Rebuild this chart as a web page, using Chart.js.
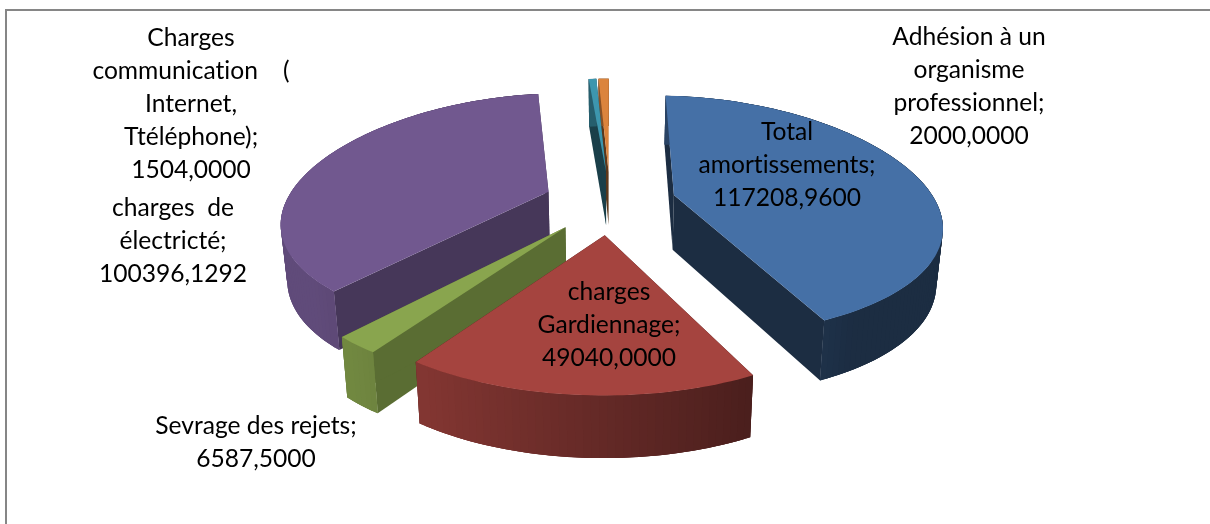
<!DOCTYPE html>
<html>
<head>
<meta charset="utf-8">
<script src="https://cdn.jsdelivr.net/npm/chart.js@4"></script>
<style>
    body { margin: 0; background: #fff; }
    #frame { position: absolute; left: 5px; top: 9px; right: 0; bottom: 0; border-left: 2px solid #868686; border-top: 2px solid #868686; }
    canvas { position: absolute; left: 0; top: 0; }
</style>
</head>
<body>
<div id="frame"></div>
<canvas id="myChart" width="1210" height="524"></canvas>
<script>
const categories = ['Total\namortissements', 'charges\nGardiennage', 'Sevrage des rejets', 'charges  de\nélectricté',
    'Charges\ncommunication    (\nInternet,\nTtéléphone)', 'Adhésion à un\norganisme\nprofessionnel'];
const values = [117208.96, 49040, 6587.5, 100396.1292, 1504, 2000];
const colors = ['#4570A6', '#A5443F', '#89A54E', '#71588F', '#3D96AE', '#DB843D'];

// centre of each label block (same order as categories)
const labelX = [787, 609, 256, 173, 191, 969];
const labelY = [164, 324, 442, 240, 103, 86];
const lineHeight = 33;

// how dark the cut faces are
const cutShades = [0.4, 0.4, 0.66, 0.62, 0.42, 0.42];
// slices painted back to front
const drawOrder = [5, 4, 0, 3, 2, 1];

const view = { cx: 610, cy: 202, rx: 267, ry: 119, kx: 0.15, ky: 0.175, sag: 8, explodeX: 0.98, explodeY: 1.05 };

function project(x, y) {
    return {
        x: view.cx + view.rx * x / (1 - view.kx * y),
        y: view.cy + view.ry * y / (1 - view.ky * y) + view.sag * x * x,
        py: y
    };
}

function lower(p) {
    return { x: view.cx + (p.x - view.cx) * 0.98, y: p.y + 55 + 6 * p.py };
}

function shade(hex, f) {
    const n = parseInt(hex.slice(1), 16);
    const r = Math.round((n >> 16 & 255) * f), g = Math.round((n >> 8 & 255) * f), b = Math.round((n & 255) * f);
    return 'rgb(' + r + ',' + g + ',' + b + ')';
}

function poly(ctx, pts, color) {
    ctx.beginPath();
    pts.forEach((p, i) => i ? ctx.lineTo(p.x, p.y) : ctx.moveTo(p.x, p.y));
    ctx.closePath();
    ctx.fillStyle = color;
    ctx.fill();
}

function drawSlice(ctx, arc, index) {
    const base = arc.options.backgroundColor;
    const off = arc.options.offset / arc.outerRadius;
    const mid = (arc.startAngle + arc.endAngle) / 2;
    const ox = off * view.explodeX * Math.cos(mid), oy = off * view.explodeY * Math.sin(mid);
    const apex = project(ox, oy);
    const rim = [];
    const steps = Math.max(2, Math.ceil((arc.endAngle - arc.startAngle) / 0.025));
    for (let i = 0; i <= steps; i++) {
        const a = arc.startAngle + (arc.endAngle - arc.startAngle) * i / steps;
        const p = project(ox + Math.cos(a), oy + Math.sin(a));
        p.a = a;
        rim.push(p);
    }
    const first = rim[0], last = rim[rim.length - 1];
    poly(ctx, [apex, first, lower(first), lower(apex)], shade(base, cutShades[index]));
    poly(ctx, [apex, last, lower(last), lower(apex)], shade(base, cutShades[index]));
    // outer wall gets darker towards the right, each strip overlaps the next one to hide seams
    const order = rim.map((p, i) => i).slice(0, steps);
    if (Math.cos(rim[0].a) < Math.cos(rim[steps].a)) order.reverse();
    order.forEach(i => {
        const f = Math.min(0.85, Math.max(0.4, 0.6 - 0.33 * Math.cos(rim[i].a)));
        const j = Math.min(steps, i + 2), h = Math.max(0, i - 1);
        poly(ctx, [rim[h], rim[i], rim[j], lower(rim[j]), lower(rim[i]), lower(rim[h])], shade(base, f));
    });
    poly(ctx, [apex].concat(rim), base);
}

const pie3d = {
    id: 'pie3d',
    beforeDatasetDraw(chart, args) {
        const arcs = chart.getDatasetMeta(args.index).data;
        drawOrder.forEach(i => drawSlice(chart.ctx, arcs[i], i));
        return false;
    },
    afterDraw(chart) {
        const ctx = chart.ctx;
        ctx.save();
        ctx.font = '24.6px Lato';
        ctx.textRendering = 'optimizeSpeed';
        ctx.fillStyle = '#000';
        ctx.textAlign = 'center';
        ctx.textBaseline = 'middle';
        categories.forEach((name, i) => {
            const lines = (name + ';\n' + values[i].toFixed(4).replace('.', ',')).split('\n');
            const top = labelY[i] + 1 - (lines.length - 1) * lineHeight / 2;
            lines.forEach((line, j) => ctx.fillText(line, labelX[i], top + j * lineHeight));
        });
        ctx.restore();
    }
};

new Chart(document.getElementById('myChart').getContext('2d'), {
    type: 'pie',
    data: {
        labels: categories,
        datasets: [{
            data: values,
            backgroundColor: colors,
            borderWidth: 0,
            offset: 59
        }]
    },
    options: {
        responsive: false,
        animation: false,
        plugins: {
            legend: { display: false },
            tooltip: { enabled: false }
        }
    },
    plugins: [pie3d]
});
</script>
</body>
</html>
